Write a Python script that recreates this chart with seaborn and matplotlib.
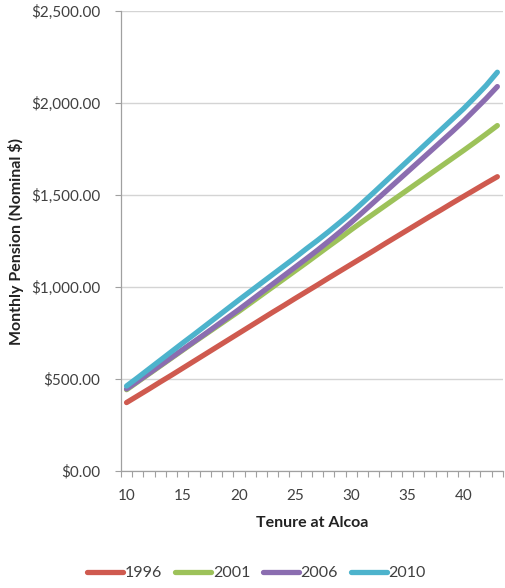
import numpy as np
import pandas as pd
import matplotlib
matplotlib.use("Agg")
import matplotlib.pyplot as plt
import seaborn as sns
from matplotlib.ticker import FuncFormatter, MultipleLocator

# Monthly pension by years of tenure, one series per plan year
tenure = list(range(10, 44))
pension_1996 = [372, 409, 446, 484, 521, 559, 597, 635, 673, 711, 749, 787, 825,
                863, 900, 938, 975, 1012, 1050, 1087, 1124, 1161, 1198, 1236, 1273,
                1310, 1347, 1384, 1420, 1457, 1493, 1529, 1565, 1600]
pension_2001 = [442, 485, 528, 571, 614, 657, 700, 742, 784, 826, 868, 912, 956,
                1000, 1044, 1088, 1132, 1177, 1222, 1266, 1312, 1356, 1399, 1442,
                1485, 1528, 1571, 1614, 1657, 1700, 1743, 1787, 1832, 1878]
pension_2006 = [446, 488, 531, 574, 617, 660, 703, 746, 790, 834, 878, 924, 970,
                1016, 1062, 1108, 1154, 1201, 1250, 1300, 1352, 1406, 1461, 1516,
                1571, 1626, 1681, 1736, 1791, 1846, 1903, 1964, 2025, 2090]
pension_2010 = [462, 508, 555, 602, 649, 696, 742, 789, 836, 883, 930, 976, 1022,
                1068, 1114, 1160, 1208, 1254, 1302, 1352, 1403, 1458, 1514, 1571,
                1628, 1685, 1742, 1799, 1856, 1913, 1970, 2032, 2096, 2168]
years = ["1996", "2001", "2006", "2010"]
colors = ["#CF5A4F", "#9DC25A", "#8B6DB0", "#4DB3CC"]

df = pd.concat([
    pd.DataFrame({"Tenure": tenure, "Pension": vals, "Year": yr})
    for yr, vals in zip(years, [pension_1996, pension_2001, pension_2006, pension_2010])
])

sns.set_style("white")
plt.rcParams["font.family"] = ["Lato", "DejaVu Sans"]

fig = plt.figure(figsize=(5.06, 5.88), dpi=100)
ax = fig.add_axes([0.239, 0.199, 0.755, 0.782])

sns.lineplot(data=df, x="Tenure", y="Pension", hue="Year", hue_order=years,
             palette=colors, linewidth=3.8, ax=ax, legend=False,
             solid_capstyle="round")

ax.set_xlim(9.5, 43.5)
ax.set_ylim(0, 2500)

# y axis: dollar labels, light horizontal grid
ax.yaxis.set_major_locator(MultipleLocator(500))
ax.yaxis.set_major_formatter(FuncFormatter(lambda v, p: f"${v:,.2f}"))
ax.grid(axis="y", color="#D4D4D4", linewidth=1.0)
ax.grid(axis="x", visible=False)
ax.set_axisbelow(True)

# x axis: labels every 5 years, tick marks between categories
ax.set_xticks(range(10, 41, 5))
ax.set_xticks(np.arange(9.5, 44.0, 1.0), minor=True)
ax.tick_params(axis="x", which="major", length=0, pad=13, labelsize=11,
               labelcolor="#404040")
ax.tick_params(axis="x", which="minor", length=4, width=0.8, color="#A0A0A0",
               direction="out", bottom=True)
ax.tick_params(axis="y", which="major", length=4, width=0.8, color="#A0A0A0",
               direction="out", left=True, pad=11, labelsize=11,
               labelcolor="#404040")

for side in ["top", "right"]:
    ax.spines[side].set_visible(False)
for side in ["left", "bottom"]:
    ax.spines[side].set_color("#A0A0A0")
    ax.spines[side].set_linewidth(0.9)

ax.set_xlabel("Tenure at Alcoa", fontsize=11.5, fontweight="bold",
              color="#222222", labelpad=9)
ax.set_ylabel("Monthly Pension (Nominal $)", fontsize=11.5, fontweight="bold",
              color="#222222", labelpad=5)

handles = [plt.Line2D([0], [0], color=c, linewidth=3.8, solid_capstyle="round")
           for c in colors]
fig.legend(handles, years, loc="center", bbox_to_anchor=(0.507, 0.025), ncol=4,
           frameon=False, fontsize=11.5, handlelength=2.25, handletextpad=0.1,
           columnspacing=0.8, labelcolor="#404040")

fig.savefig("out.png", dpi=100)
